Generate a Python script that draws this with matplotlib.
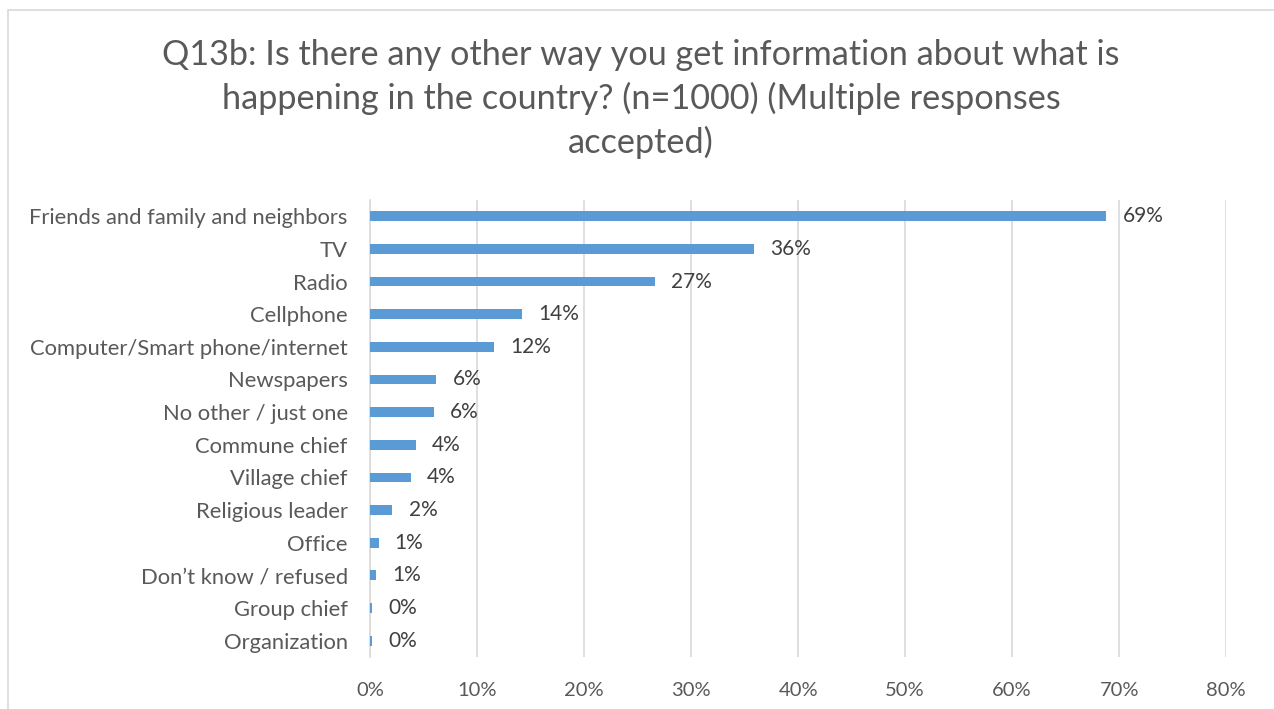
import matplotlib
matplotlib.use("Agg")
import matplotlib.pyplot as plt
import matplotlib.patches as patches

categories = ["Friends and family and neighbors", "TV", "Radio", "Cellphone",
              "Computer/Smart phone/internet", "Newspapers", "No other / just one",
              "Commune chief", "Village chief", "Religious leader", "Office",
              "Don\u2019t know / refused", "Group chief", "Organization"]
values = [68.8, 35.9, 26.6, 14.2, 11.6, 6.2, 6.0, 4.3, 3.8, 2.1, 0.8, 0.6, 0.2, 0.2]
labels = ["69%", "36%", "27%", "14%", "12%", "6%", "6%", "4%", "4%", "2%",
          "1%", "1%", "0%", "0%"]
xticks = [0, 10, 20, 30, 40, 50, 60, 70, 80]

plt.rcParams['font.family'] = ['Lato', 'DejaVu Sans']
txt = "#595959"

fig = plt.figure(figsize=(12.74, 7.09), dpi=100)
ax = fig.add_axes([0.2904, 0.0734, 0.6721, 0.6446])

# chart border
fig.patches.append(patches.Rectangle((8 / 1274, -0.01), 1.0, 1 - 10 / 709 + 0.01,
                                     transform=fig.transFigure, fill=False,
                                     edgecolor="#d9d9d9", linewidth=1.2))

y = list(range(len(categories)))
ax.barh(y, values, height=0.3, color="#5b9bd5", zorder=3)
for yi, v, lab in zip(y, values, labels):
    ax.text(v + 1.5, yi, lab, va="center", ha="left", fontsize=15, color="#404040")

ax.set_yticks(y)
ax.set_yticklabels(categories, fontsize=15.8, color=txt)
ax.invert_yaxis()
ax.set_ylim(len(categories) - 0.5, -0.5)
ax.set_xlim(0, 80)
ax.set_xticks(xticks)
ax.set_xticklabels([f"{t}%" for t in xticks], fontsize=14.5, color=txt)
ax.xaxis.grid(True, color="#d9d9d9", linewidth=1.2, zorder=0)
ax.tick_params(axis="y", length=0, pad=16)
ax.tick_params(axis="x", length=0, pad=18)
for s in ["top", "right", "bottom"]:
    ax.spines[s].set_visible(False)
ax.spines["left"].set_color("#d9d9d9")
ax.spines["left"].set_linewidth(1.2)

fig.text(0.5 + 4 / 1274, 1 - 99 / 709, "Q13b: Is there any other way you get information about what is\n"
         "happening in the country? (n=1000) (Multiple responses\naccepted)",
         ha="center", va="center", fontsize=24.7, color=txt, linespacing=1.4)

fig.savefig("out.png", dpi=100)
